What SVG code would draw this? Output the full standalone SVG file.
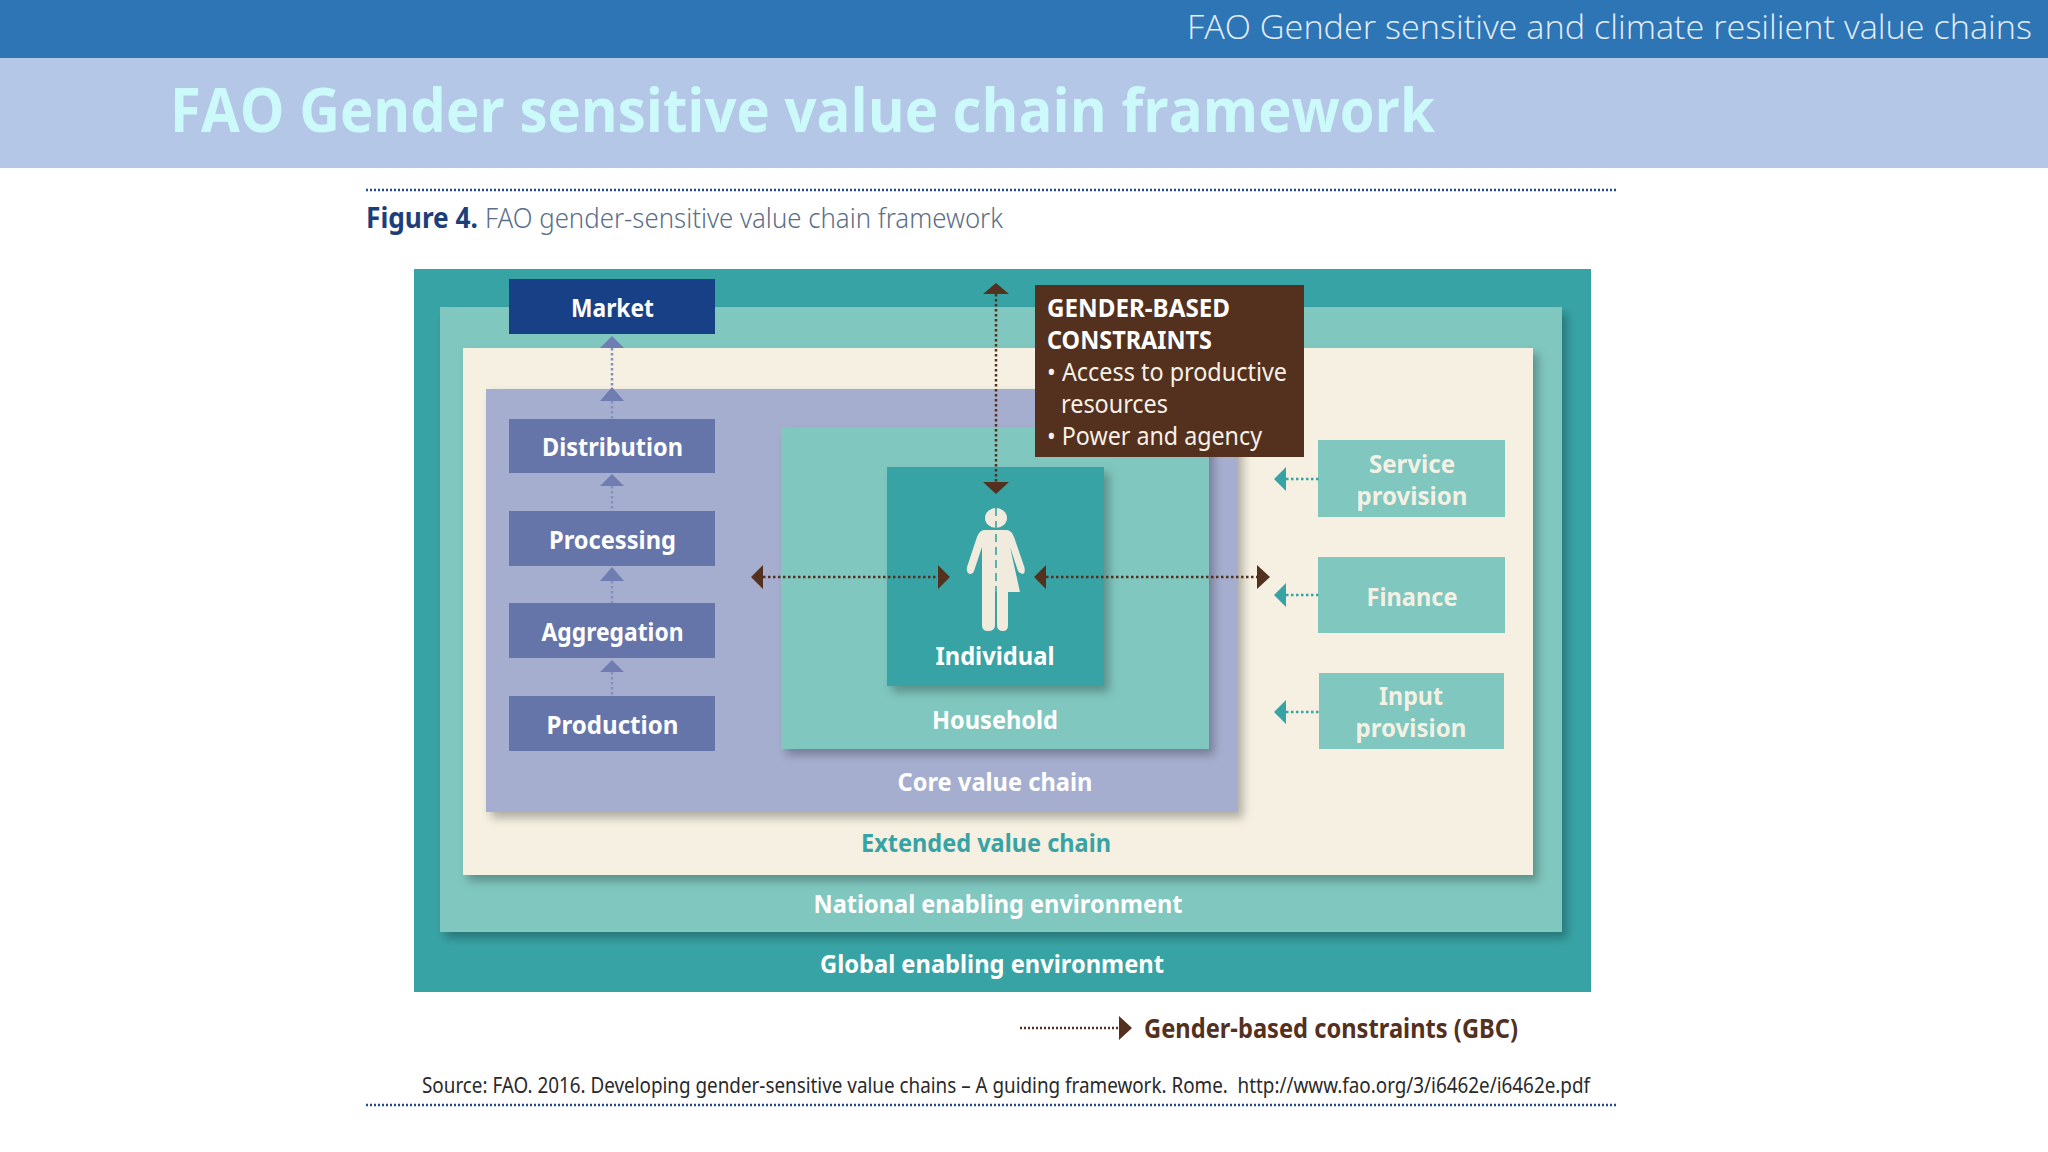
<svg xmlns="http://www.w3.org/2000/svg" width="2048" height="1152" viewBox="0 0 2048 1152">
<style>
text{font-family:"Noto Sans","Open Sans","Liberation Sans",sans-serif}
.l{font-size:25px;font-weight:700;fill:#fff;text-anchor:middle}
.s{font-size:25px;font-weight:700;fill:#f4f1e4;text-anchor:middle}
.b{font-size:25px;fill:#f7f1e6}
.bb{font-weight:700;fill:#fff}
.dot{fill:none;stroke-width:2.5;stroke-dasharray:2.5 2.5}
.brown{stroke:#54301f}.bf{fill:#54301f}
.teal{stroke:#38a3a5}.tf{fill:#38a3a5}
.vi{stroke:#8490bd}.vf{fill:#6f7db2}
</style>
<defs>
<filter id="sh" x="-5%" y="-5%" width="112%" height="112%"><feDropShadow dx="5" dy="6" stdDeviation="5" flood-color="#000" flood-opacity="0.28"/></filter>
</defs>
<rect width="2048" height="1152" fill="#fff"/>
<g id="header">
<rect width="2048" height="58" fill="#2e75b6"/>
<rect y="58" width="2048" height="110" fill="#b4c7e7"/>
<text x="2032" y="39" font-size="33" font-weight="300" fill="#e4eef8" text-anchor="end" textLength="845" lengthAdjust="spacingAndGlyphs" style="font-family:'Open Sans',sans-serif">FAO Gender sensitive and climate resilient value chains</text>
<text x="170" y="132" font-size="60" font-weight="700" fill="#ccfafa" textLength="1265" lengthAdjust="spacingAndGlyphs" style="font-family:'Open Sans',sans-serif">FAO Gender sensitive value chain framework</text>
</g>
<g id="caption">
<line x1="366" y1="190" x2="1616" y2="190" stroke="#1f4e8a" stroke-width="2.5" stroke-dasharray="2 2"/>
<text x="366" y="228" font-size="28" font-weight="700" fill="#1c3f7c" textLength="112" lengthAdjust="spacingAndGlyphs">Figure 4.</text>
<text x="485" y="228" font-size="28" font-weight="300" fill="#5b6f88" textLength="518" lengthAdjust="spacingAndGlyphs">FAO gender-sensitive value chain framework</text>
</g>
<g id="global"><rect x="414" y="269" width="1177" height="723" fill="#38a3a5"/>
<text class="l" x="992" y="973" textLength="344" lengthAdjust="spacingAndGlyphs">Global enabling environment</text></g>
<g id="national"><rect x="440" y="307" width="1122" height="625" fill="#80c7bf" filter="url(#sh)"/>
<text class="l" x="998" y="913" textLength="369" lengthAdjust="spacingAndGlyphs">National enabling environment</text></g>
<g id="extended"><rect x="463" y="348" width="1070" height="527" fill="#f5f0e1" filter="url(#sh)"/>
<text class="l" x="986" y="852" textLength="250" lengthAdjust="spacingAndGlyphs" style="fill:#38a3a5">Extended value chain</text></g>
<g id="core"><rect x="486" y="389" width="752" height="423" fill="#a6aed0" filter="url(#sh)"/>
<text class="l" x="995" y="791" textLength="195" lengthAdjust="spacingAndGlyphs">Core value chain</text></g>
<g id="household"><rect x="781" y="427" width="428" height="322" fill="#80c7bf" filter="url(#sh)"/>
<text class="l" x="995" y="729" textLength="126" lengthAdjust="spacingAndGlyphs">Household</text></g>
<g id="individual"><rect x="887" y="467" width="217" height="219" fill="#38a3a5" filter="url(#sh)"/>
<ellipse cx="996" cy="518" rx="11" ry="10" fill="#f0ebdc"/>
<path d="M996 530H984Q979 531 977 537L967 567Q966 573 970 574Q973 574 974 571L982 547V625Q982 631 988 631Q995 631 995 625V592H997V625Q997 631 1003 631Q1008 631 1008 625V592H1020L1010 547L1018 571Q1020 574 1023 574Q1026 572 1024 566L1014 537Q1012 531 1007 530Z" fill="#f0ebdc"/>
<line x1="996" y1="508" x2="996" y2="592" stroke="#38a3a5" stroke-width="1.6" stroke-dasharray="8 5"/>
<text class="l" x="995" y="665" textLength="119" lengthAdjust="spacingAndGlyphs">Individual</text></g>
<g id="market"><rect x="509" y="279" width="206" height="55" fill="#184086"/><text class="l" x="612.5" y="317" textLength="83" lengthAdjust="spacingAndGlyphs">Market</text></g>
<g id="distribution"><rect x="509" y="419" width="206" height="54" fill="#6675a9"/><text class="l" x="612.5" y="456" textLength="141" lengthAdjust="spacingAndGlyphs">Distribution</text></g>
<g id="processing"><rect x="509" y="511" width="206" height="55" fill="#6675a9"/><text class="l" x="612.5" y="549" textLength="127" lengthAdjust="spacingAndGlyphs">Processing</text></g>
<g id="aggregation"><rect x="509" y="603" width="206" height="55" fill="#6675a9"/><text class="l" x="612.5" y="641" textLength="142" lengthAdjust="spacingAndGlyphs">Aggregation</text></g>
<g id="production"><rect x="509" y="696" width="206" height="55" fill="#6675a9"/><text class="l" x="612.5" y="734" textLength="132" lengthAdjust="spacingAndGlyphs">Production</text></g>
<g id="service"><rect x="1318" y="440" width="187" height="77" fill="#80c7bf"/>
<text class="s" x="1412" y="473" textLength="86" lengthAdjust="spacingAndGlyphs">Service</text><text class="s" x="1412" y="505" textLength="111" lengthAdjust="spacingAndGlyphs">provision</text></g>
<g id="finance"><rect x="1318" y="557" width="187" height="76" fill="#80c7bf"/>
<text class="s" x="1412" y="606" textLength="91" lengthAdjust="spacingAndGlyphs">Finance</text></g>
<g id="input"><rect x="1319" y="673" width="185" height="76" fill="#80c7bf"/>
<text class="s" x="1411" y="705" textLength="64" lengthAdjust="spacingAndGlyphs">Input</text><text class="s" x="1411" y="737" textLength="111" lengthAdjust="spacingAndGlyphs">provision</text></g>
<g id="connectors">
<path class="dot vi" d="M612 348V387M612 401V419M612 486V511M612 581V603M612 672V696"/>
<path class="vf" d="M612 336L624 348H600ZM612 387L624 401H600ZM612 474L624 486H600ZM612 567L624 581H600ZM612 660L624 672H600Z"/>
<path class="dot brown" d="M996 294V482M763 577H938M1046 577H1257"/>
<path class="bf" d="M996 283L1009 294H983ZM996 494L983 482H1009ZM751 577L763 565V589ZM950 577L938 565V589ZM1034 577L1046 565V589ZM1270 577L1257 565V589Z"/>
<path class="dot teal" d="M1286 479H1320M1286 595H1320M1286 712H1320"/>
<path class="tf" d="M1274 479L1286 467V491ZM1274 595L1286 583V607ZM1274 712L1286 700V724Z"/>
</g>
<g id="gender-based-constraints"><rect x="1035" y="285" width="269" height="172" fill="#54301f"/>
<text class="b bb" x="1047" y="317" textLength="183" lengthAdjust="spacingAndGlyphs">GENDER-BASED</text>
<text class="b bb" x="1047" y="349" textLength="165" lengthAdjust="spacingAndGlyphs">CONSTRAINTS</text>
<text class="b" x="1047" y="381" textLength="240" lengthAdjust="spacingAndGlyphs">• Access to productive</text>
<text class="b" x="1061" y="413" textLength="107" lengthAdjust="spacingAndGlyphs">resources</text>
<text class="b" x="1047" y="445" textLength="215" lengthAdjust="spacingAndGlyphs">• Power and agency</text></g>
<g id="legend">
<line class="dot brown" x1="1020" y1="1028" x2="1120" y2="1028" style="stroke-width:2.5;stroke-dasharray:2 2"/>
<path class="bf" d="M1132 1028L1119 1016V1040Z"/>
<text x="1144" y="1038" font-size="26" font-weight="700" fill="#54301f" textLength="374" lengthAdjust="spacingAndGlyphs">Gender-based constraints (GBC)</text>
</g>
<g id="source">
<text x="422" y="1093" font-size="21" fill="#2a2a2a" textLength="1168" lengthAdjust="spacingAndGlyphs">Source: FAO. 2016. Developing gender-sensitive value chains – A guiding framework. Rome.&#160; http://www.fao.org/3/i6462e/i6462e.pdf</text>
<line x1="366" y1="1105" x2="1616" y2="1105" stroke="#1f4e8a" stroke-width="2.5" stroke-dasharray="2 2"/>
</g>
</svg>
